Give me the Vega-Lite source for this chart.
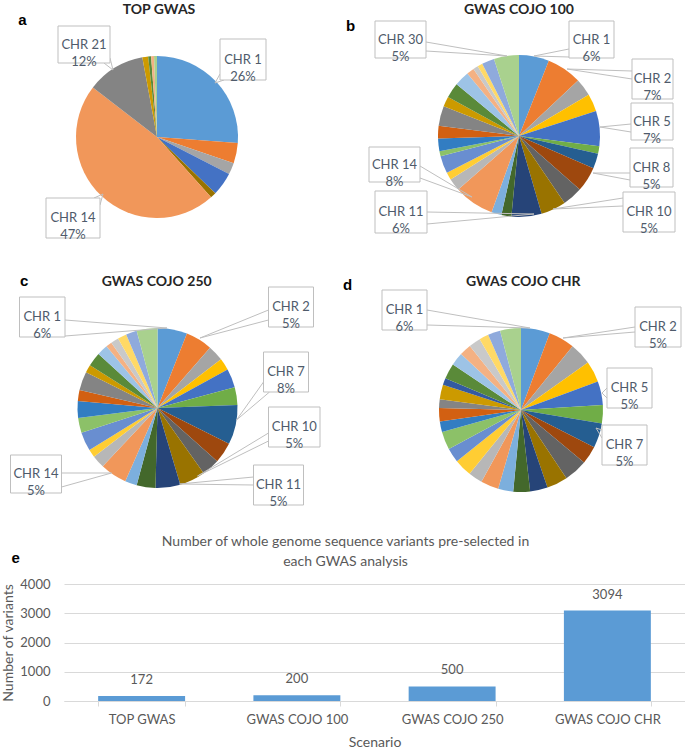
{
"$schema": "https://vega.github.io/schema/vega-lite/v6.json",
"padding": 0,
"spacing": 0,
"background": "white",
"config": {"view": {"stroke": null}, "concat": {"spacing": 0}},
"datasets": {
"pies": [
{"p":"a","chr":1,"n":45},{"p":"a","chr":2,"n":7},{"p":"a","chr":3,"n":4},{"p":"a","chr":5,"n":8},{"p":"a","chr":10,"n":2},{"p":"a","chr":14,"n":81},{"p":"a","chr":21,"n":20},{"p":"a","chr":22,"n":2},{"p":"a","chr":24,"n":1},{"p":"a","chr":26,"n":1},{"p":"a","chr":30,"n":1},
{"p":"b","chr":1,"n":12},{"p":"b","chr":2,"n":14},{"p":"b","chr":3,"n":7},{"p":"b","chr":4,"n":7},{"p":"b","chr":5,"n":14},{"p":"b","chr":6,"n":3},{"p":"b","chr":7,"n":6},{"p":"b","chr":8,"n":10},{"p":"b","chr":9,"n":8},{"p":"b","chr":10,"n":10},{"p":"b","chr":11,"n":12},{"p":"b","chr":12,"n":4},{"p":"b","chr":13,"n":4},{"p":"b","chr":14,"n":16},{"p":"b","chr":15,"n":5},{"p":"b","chr":16,"n":3},{"p":"b","chr":17,"n":7},{"p":"b","chr":18,"n":2},{"p":"b","chr":19,"n":5},{"p":"b","chr":20,"n":5},{"p":"b","chr":21,"n":8},{"p":"b","chr":22,"n":4},{"p":"b","chr":24,"n":6},{"p":"b","chr":25,"n":6},{"p":"b","chr":26,"n":3},{"p":"b","chr":27,"n":2},{"p":"b","chr":28,"n":2},{"p":"b","chr":29,"n":5},{"p":"b","chr":30,"n":10},
{"p":"c","chr":1,"n":30},{"p":"c","chr":2,"n":27},{"p":"c","chr":3,"n":16},{"p":"c","chr":4,"n":12},{"p":"c","chr":5,"n":19},{"p":"c","chr":6,"n":18},{"p":"c","chr":7,"n":40},{"p":"c","chr":8,"n":21},{"p":"c","chr":9,"n":18},{"p":"c","chr":10,"n":26},{"p":"c","chr":11,"n":25},{"p":"c","chr":12,"n":19},{"p":"c","chr":13,"n":12},{"p":"c","chr":14,"n":27},{"p":"c","chr":15,"n":13},{"p":"c","chr":16,"n":8},{"p":"c","chr":17,"n":19},{"p":"c","chr":18,"n":15},{"p":"c","chr":19,"n":17},{"p":"c","chr":20,"n":11},{"p":"c","chr":21,"n":19},{"p":"c","chr":22,"n":8},{"p":"c","chr":24,"n":14},{"p":"c","chr":25,"n":11},{"p":"c","chr":26,"n":6},{"p":"c","chr":27,"n":8},{"p":"c","chr":28,"n":9},{"p":"c","chr":29,"n":11},{"p":"c","chr":30,"n":21},
{"p":"d","chr":1,"n":176},{"p":"d","chr":2,"n":159},{"p":"d","chr":3,"n":135},{"p":"d","chr":4,"n":128},{"p":"d","chr":5,"n":146},{"p":"d","chr":6,"n":111},{"p":"d","chr":7,"n":150},{"p":"d","chr":8,"n":110},{"p":"d","chr":9,"n":143},{"p":"d","chr":10,"n":127},{"p":"d","chr":11,"n":107},{"p":"d","chr":12,"n":102},{"p":"d","chr":13,"n":92},{"p":"d","chr":14,"n":109},{"p":"d","chr":15,"n":86},{"p":"d","chr":16,"n":108},{"p":"d","chr":17,"n":88},{"p":"d","chr":18,"n":110},{"p":"d","chr":19,"n":64},{"p":"d","chr":20,"n":81},{"p":"d","chr":21,"n":54},{"p":"d","chr":22,"n":88},{"p":"d","chr":23,"n":42},{"p":"d","chr":24,"n":95},{"p":"d","chr":25,"n":79},{"p":"d","chr":26,"n":72},{"p":"d","chr":27,"n":72},{"p":"d","chr":28,"n":57},{"p":"d","chr":29,"n":76},{"p":"d","chr":30,"n":127}
],
"box": [
{"p":"a","x":63,"y":-98,"x2":109,"y2":-57},{"p":"a","x":-99,"y":-111,"x2":-47,"y2":-74},{"p":"a","x":-111,"y":61,"x2":-57,"y2":101},
{"p":"b","x":-144,"y":-115,"x2":-93,"y2":-78},{"p":"b","x":50,"y":-115,"x2":95,"y2":-78},{"p":"b","x":113,"y":-77,"x2":154,"y2":-37},{"p":"b","x":112,"y":-33,"x2":154,"y2":4},{"p":"b","x":111,"y":12,"x2":154,"y2":51},{"p":"b","x":104,"y":56,"x2":156,"y2":96},{"p":"b","x":-144,"y":55,"x2":-92,"y2":97},{"p":"b","x":-150,"y":11,"x2":-99,"y2":46},
{"p":"c","x":-138,"y":-111,"x2":-92.5,"y2":-71},{"p":"c","x":111,"y":-121,"x2":156,"y2":-81},{"p":"c","x":106,"y":-56,"x2":151,"y2":-16},{"p":"c","x":111,"y":-1,"x2":162.5,"y2":39},{"p":"c","x":96,"y":57,"x2":146,"y2":97},{"p":"c","x":-147,"y":47,"x2":-96,"y2":85},
{"p":"d","x":-139,"y":-120,"x2":-94,"y2":-80},{"p":"d","x":114,"y":-103,"x2":160,"y2":-63},{"p":"d","x":86,"y":-42,"x2":131,"y2":-2},{"p":"d","x":81,"y":15,"x2":126,"y2":55}
],
"lead": [
{"p":"a","x":63,"y":-63,"x2":58,"y2":-54},{"p":"a","x":67,"y":-57,"x2":58,"y2":-54},
{"p":"a","x":-53,"y":-74,"x2":-44,"y2":-67},{"p":"a","x":-47,"y":-79,"x2":-44,"y2":-67},
{"p":"a","x":-63,"y":61,"x2":-54,"y2":57},{"p":"a","x":-57,"y":68,"x2":-54,"y2":57},
{"p":"b","x":-93,"y":-94,"x2":-12,"y2":-80},{"p":"b","x":-93,"y":-85,"x2":-12,"y2":-80},
{"p":"b","x":50,"y":-87,"x2":15,"y2":-80},{"p":"b","x":50,"y":-79,"x2":15,"y2":-80},
{"p":"b","x":113,"y":-65,"x2":48,"y2":-67},{"p":"b","x":113,"y":-57,"x2":48,"y2":-67},
{"p":"b","x":112,"y":-12,"x2":81,"y2":-9},{"p":"b","x":112,"y":-4,"x2":81,"y2":-9},
{"p":"b","x":111,"y":37,"x2":74,"y2":37},{"p":"b","x":111,"y":44,"x2":74,"y2":37},
{"p":"b","x":104,"y":62,"x2":34,"y2":73},{"p":"b","x":104,"y":70,"x2":34,"y2":73},
{"p":"b","x":-92,"y":76,"x2":15,"y2":78},{"p":"b","x":-92,"y":88,"x2":15,"y2":78},
{"p":"b","x":-99,"y":30,"x2":-47,"y2":61},{"p":"b","x":-99,"y":42,"x2":-47,"y2":61},
{"p":"c","x":-92.5,"y":-88,"x2":9.5,"y2":-80},{"p":"c","x":-92.5,"y":-72,"x2":9.5,"y2":-80},
{"p":"c","x":111,"y":-98,"x2":42.5,"y2":-70},{"p":"c","x":111,"y":-88,"x2":42.5,"y2":-70},
{"p":"c","x":106,"y":-26,"x2":79,"y2":12},{"p":"c","x":112,"y":-16,"x2":79,"y2":12},
{"p":"c","x":111,"y":25,"x2":40,"y2":68},{"p":"c","x":111,"y":33,"x2":40,"y2":68},
{"p":"c","x":96,"y":69,"x2":22,"y2":76},{"p":"c","x":96,"y":77,"x2":22,"y2":76},
{"p":"c","x":-96,"y":65,"x2":-46,"y2":65},{"p":"c","x":-96,"y":79,"x2":-46,"y2":65},
{"p":"d","x":-94,"y":-100,"x2":9,"y2":-82},{"p":"d","x":-94,"y":-85,"x2":9,"y2":-82},
{"p":"d","x":114,"y":-83,"x2":42,"y2":-72},{"p":"d","x":114,"y":-78,"x2":42,"y2":-72},
{"p":"d","x":86,"y":-22,"x2":81,"y2":-17},{"p":"d","x":86,"y":-12,"x2":81,"y2":-17},
{"p":"d","x":81,"y":20,"x2":75,"y2":18},{"p":"d","x":81,"y":28,"x2":75,"y2":18}
],
"txt": [
{"p":"a","r":"label","x":86,"y":-77.5,"t":"CHR 1\n26%"},{"p":"a","r":"label","x":-73,"y":-92.5,"t":"CHR 21\n12%"},{"p":"a","r":"label","x":-84,"y":81,"t":"CHR 14\n47%"},
{"p":"a","r":"title","x":2,"y":-123,"t":"TOP GWAS"},{"p":"a","r":"letter","x":-134.5,"y":-112,"t":"a"},
{"p":"b","r":"label","x":-118.5,"y":-96.5,"t":"CHR 30\n5%"},{"p":"b","r":"label","x":72.5,"y":-96.5,"t":"CHR 1\n6%"},{"p":"b","r":"label","x":133.5,"y":-57,"t":"CHR 2\n7%"},{"p":"b","r":"label","x":133,"y":-14.5,"t":"CHR 5\n7%"},{"p":"b","r":"label","x":132.5,"y":31.5,"t":"CHR 8\n5%"},{"p":"b","r":"label","x":130,"y":76,"t":"CHR 10\n5%"},{"p":"b","r":"label","x":-118,"y":76,"t":"CHR 11\n6%"},{"p":"b","r":"label","x":-124.5,"y":28.5,"t":"CHR 14\n8%"},
{"p":"b","r":"title","x":0,"y":-122,"t":"GWAS COJO 100"},{"p":"b","r":"letter","x":-168.5,"y":-105.5,"t":"b"},
{"p":"c","r":"label","x":-115.3,"y":-91,"t":"CHR 1\n6%"},{"p":"c","r":"label","x":133.5,"y":-101,"t":"CHR 2\n5%"},{"p":"c","r":"label","x":128.5,"y":-36,"t":"CHR 7\n8%"},{"p":"c","r":"label","x":136.8,"y":19,"t":"CHR 10\n5%"},{"p":"c","r":"label","x":121,"y":77,"t":"CHR 11\n5%"},{"p":"c","r":"label","x":-121.5,"y":66,"t":"CHR 14\n5%"},
{"p":"c","r":"title","x":-0.8,"y":-122.5,"t":"GWAS COJO 250"},{"p":"c","r":"letter","x":-133.3,"y":-122,"t":"c"},
{"p":"d","r":"label","x":-116.5,"y":-100,"t":"CHR 1\n6%"},{"p":"d","r":"label","x":137,"y":-83,"t":"CHR 2\n5%"},{"p":"d","r":"label","x":108.5,"y":-22,"t":"CHR 5\n5%"},{"p":"d","r":"label","x":103.5,"y":35,"t":"CHR 7\n5%"},
{"p":"d","r":"title","x":2.3,"y":-124.5,"t":"GWAS COJO CHR"},{"p":"d","r":"letter","x":-173.5,"y":-120,"t":"d"}
],
"bars": [
{"s":"TOP GWAS","n":172},{"s":"GWAS COJO 100","n":200},{"s":"GWAS COJO 250","n":500},{"s":"GWAS COJO CHR","n":3094}
],
"panelLetter": [
{"s":"TOP GWAS","n":4880,"t":"e"}
]
},
"vconcat": [
{"spacing": 103, "bounds": "flush", "hconcat": [
{"width": 186, "height": 274,
 "layer": [
  {"data":{"name":"pies"},"transform":[{"filter":"datum.p=='a'"}],"mark":{"type":"arc","radius":81},
   "encoding":{"theta":{"field":"n","type":"quantitative","stack":true},"order":{"field":"chr","type":"quantitative"},
    "color":{"field":"chr","type":"nominal","legend":null,"scale":{"domain":[1,2,3,4,5,6,7,8,9,10,11,12,13,14,15,16,17,18,19,20,21,22,23,24,25,26,27,28,29,30],"range":["#5B9BD5","#ED7D31","#A5A5A5","#FFC000","#4472C4","#70AD47","#255E91","#9E480E","#636363","#997300","#264478","#43682B","#7CAFDD","#F1975A","#B7B7B7","#FFCD33","#698ED0","#8CC168","#327DC2","#D26012","#848484","#CC9A00","#335AA1","#5A8A39","#9DC3E6","#F4B183","#C9C9C9","#FFD966","#8FAADC","#A9D18E"]}}}},
  {"data":{"name":"lead"},"transform":[{"filter":"datum.p=='a'"}],"mark":{"type":"rule","color":"#BFBFBF","strokeWidth":1},
   "encoding":{"x":{"field":"x","type":"quantitative","scale":{"domain":[-93,93],"nice":false,"zero":false},"axis":null},"y":{"field":"y","type":"quantitative","scale":{"domain":[-137,137],"nice":false,"zero":false,"reverse":true},"axis":null},"x2":{"field":"x2"},"y2":{"field":"y2"}}},
  {"data":{"name":"box"},"transform":[{"filter":"datum.p=='a'"}],"mark":{"type":"rect","fill":"white","stroke":"#BFBFBF","strokeWidth":1},
   "encoding":{"x":{"field":"x","type":"quantitative","scale":{"domain":[-93,93],"nice":false,"zero":false},"axis":null},"y":{"field":"y","type":"quantitative","scale":{"domain":[-137,137],"nice":false,"zero":false,"reverse":true},"axis":null},"x2":{"field":"x2"},"y2":{"field":"y2"}}},
  {"data":{"name":"txt"},"transform":[{"filter":"datum.p=='a' && datum.r=='label'"}],"mark":{"type":"text","font":"Lato","fontSize":13,"color":"#4F5B6B","lineBreak":"\n","lineHeight":17,"baseline":"middle","align":"center"},
   "encoding":{"x":{"field":"x","type":"quantitative","scale":{"domain":[-93,93],"nice":false,"zero":false},"axis":null},"y":{"field":"y","type":"quantitative","scale":{"domain":[-137,137],"nice":false,"zero":false,"reverse":true},"axis":null},"text":{"field":"t"}}},
  {"data":{"name":"txt"},"transform":[{"filter":"datum.p=='a' && datum.r=='title'"}],"mark":{"type":"text","font":"Lato","fontSize":14,"fontWeight":"bold","color":"#262626","baseline":"alphabetic","align":"center"},
   "encoding":{"x":{"field":"x","type":"quantitative","scale":{"domain":[-93,93],"nice":false,"zero":false},"axis":null},"y":{"field":"y","type":"quantitative","scale":{"domain":[-137,137],"nice":false,"zero":false,"reverse":true},"axis":null},"text":{"field":"t"}}},
  {"data":{"name":"txt"},"transform":[{"filter":"datum.p=='a' && datum.r=='letter'"}],"mark":{"type":"text","font":"Liberation Sans","fontSize":15,"fontWeight":"bold","color":"#000000","baseline":"alphabetic","align":"center"},
   "encoding":{"x":{"field":"x","type":"quantitative","scale":{"domain":[-93,93],"nice":false,"zero":false},"axis":null},"y":{"field":"y","type":"quantitative","scale":{"domain":[-137,137],"nice":false,"zero":false,"reverse":true},"axis":null},"text":{"field":"t"}}}
 ]},
{"width": 332, "height": 272,
 "layer": [
  {"data":{"name":"pies"},"transform":[{"filter":"datum.p=='b'"}],"mark":{"type":"arc","radius":81},
   "encoding":{"theta":{"field":"n","type":"quantitative","stack":true},"order":{"field":"chr","type":"quantitative"},
    "color":{"field":"chr","type":"nominal","legend":null,"scale":{"domain":[1,2,3,4,5,6,7,8,9,10,11,12,13,14,15,16,17,18,19,20,21,22,23,24,25,26,27,28,29,30],"range":["#5B9BD5","#ED7D31","#A5A5A5","#FFC000","#4472C4","#70AD47","#255E91","#9E480E","#636363","#997300","#264478","#43682B","#7CAFDD","#F1975A","#B7B7B7","#FFCD33","#698ED0","#8CC168","#327DC2","#D26012","#848484","#CC9A00","#335AA1","#5A8A39","#9DC3E6","#F4B183","#C9C9C9","#FFD966","#8FAADC","#A9D18E"]}}}},
  {"data":{"name":"lead"},"transform":[{"filter":"datum.p=='b'"}],"mark":{"type":"rule","color":"#BFBFBF","strokeWidth":1},
   "encoding":{"x":{"field":"x","type":"quantitative","scale":{"domain":[-166,166],"nice":false,"zero":false},"axis":null},"y":{"field":"y","type":"quantitative","scale":{"domain":[-136,136],"nice":false,"zero":false,"reverse":true},"axis":null},"x2":{"field":"x2"},"y2":{"field":"y2"}}},
  {"data":{"name":"box"},"transform":[{"filter":"datum.p=='b'"}],"mark":{"type":"rect","fill":"white","stroke":"#BFBFBF","strokeWidth":1},
   "encoding":{"x":{"field":"x","type":"quantitative","scale":{"domain":[-166,166],"nice":false,"zero":false},"axis":null},"y":{"field":"y","type":"quantitative","scale":{"domain":[-136,136],"nice":false,"zero":false,"reverse":true},"axis":null},"x2":{"field":"x2"},"y2":{"field":"y2"}}},
  {"data":{"name":"txt"},"transform":[{"filter":"datum.p=='b' && datum.r=='label'"}],"mark":{"type":"text","font":"Lato","fontSize":13,"color":"#4F5B6B","lineBreak":"\n","lineHeight":17,"baseline":"middle","align":"center"},
   "encoding":{"x":{"field":"x","type":"quantitative","scale":{"domain":[-166,166],"nice":false,"zero":false},"axis":null},"y":{"field":"y","type":"quantitative","scale":{"domain":[-136,136],"nice":false,"zero":false,"reverse":true},"axis":null},"text":{"field":"t"}}},
  {"data":{"name":"txt"},"transform":[{"filter":"datum.p=='b' && datum.r=='title'"}],"mark":{"type":"text","font":"Lato","fontSize":14,"fontWeight":"bold","color":"#262626","baseline":"alphabetic","align":"center"},
   "encoding":{"x":{"field":"x","type":"quantitative","scale":{"domain":[-166,166],"nice":false,"zero":false},"axis":null},"y":{"field":"y","type":"quantitative","scale":{"domain":[-136,136],"nice":false,"zero":false,"reverse":true},"axis":null},"text":{"field":"t"}}},
  {"data":{"name":"txt"},"transform":[{"filter":"datum.p=='b' && datum.r=='letter'"}],"mark":{"type":"text","font":"Liberation Sans","fontSize":15,"fontWeight":"bold","color":"#000000","baseline":"alphabetic","align":"center"},
   "encoding":{"x":{"field":"x","type":"quantitative","scale":{"domain":[-166,166],"nice":false,"zero":false},"axis":null},"y":{"field":"y","type":"quantitative","scale":{"domain":[-136,136],"nice":false,"zero":false,"reverse":true},"axis":null},"text":{"field":"t"}}}
 ]}
]},
{"spacing": 106, "bounds": "flush", "hconcat": [
{"width": 187, "height": 246,
 "layer": [
  {"data":{"name":"pies"},"transform":[{"filter":"datum.p=='c'"}],"mark":{"type":"arc","radius":80},
   "encoding":{"theta":{"field":"n","type":"quantitative","stack":true},"order":{"field":"chr","type":"quantitative"},
    "color":{"field":"chr","type":"nominal","legend":null,"scale":{"domain":[1,2,3,4,5,6,7,8,9,10,11,12,13,14,15,16,17,18,19,20,21,22,23,24,25,26,27,28,29,30],"range":["#5B9BD5","#ED7D31","#A5A5A5","#FFC000","#4472C4","#70AD47","#255E91","#9E480E","#636363","#997300","#264478","#43682B","#7CAFDD","#F1975A","#B7B7B7","#FFCD33","#698ED0","#8CC168","#327DC2","#D26012","#848484","#CC9A00","#335AA1","#5A8A39","#9DC3E6","#F4B183","#C9C9C9","#FFD966","#8FAADC","#A9D18E"]}}}},
  {"data":{"name":"lead"},"transform":[{"filter":"datum.p=='c'"}],"mark":{"type":"rule","color":"#BFBFBF","strokeWidth":1},
   "encoding":{"x":{"field":"x","type":"quantitative","scale":{"domain":[-93.5,93.5],"nice":false,"zero":false},"axis":null},"y":{"field":"y","type":"quantitative","scale":{"domain":[-123,123],"nice":false,"zero":false,"reverse":true},"axis":null},"x2":{"field":"x2"},"y2":{"field":"y2"}}},
  {"data":{"name":"box"},"transform":[{"filter":"datum.p=='c'"}],"mark":{"type":"rect","fill":"white","stroke":"#BFBFBF","strokeWidth":1},
   "encoding":{"x":{"field":"x","type":"quantitative","scale":{"domain":[-93.5,93.5],"nice":false,"zero":false},"axis":null},"y":{"field":"y","type":"quantitative","scale":{"domain":[-123,123],"nice":false,"zero":false,"reverse":true},"axis":null},"x2":{"field":"x2"},"y2":{"field":"y2"}}},
  {"data":{"name":"txt"},"transform":[{"filter":"datum.p=='c' && datum.r=='label'"}],"mark":{"type":"text","font":"Lato","fontSize":13,"color":"#4F5B6B","lineBreak":"\n","lineHeight":17,"baseline":"middle","align":"center"},
   "encoding":{"x":{"field":"x","type":"quantitative","scale":{"domain":[-93.5,93.5],"nice":false,"zero":false},"axis":null},"y":{"field":"y","type":"quantitative","scale":{"domain":[-123,123],"nice":false,"zero":false,"reverse":true},"axis":null},"text":{"field":"t"}}},
  {"data":{"name":"txt"},"transform":[{"filter":"datum.p=='c' && datum.r=='title'"}],"mark":{"type":"text","font":"Lato","fontSize":14,"fontWeight":"bold","color":"#262626","baseline":"alphabetic","align":"center"},
   "encoding":{"x":{"field":"x","type":"quantitative","scale":{"domain":[-93.5,93.5],"nice":false,"zero":false},"axis":null},"y":{"field":"y","type":"quantitative","scale":{"domain":[-123,123],"nice":false,"zero":false,"reverse":true},"axis":null},"text":{"field":"t"}}},
  {"data":{"name":"txt"},"transform":[{"filter":"datum.p=='c' && datum.r=='letter'"}],"mark":{"type":"text","font":"Liberation Sans","fontSize":15,"fontWeight":"bold","color":"#000000","baseline":"alphabetic","align":"center"},
   "encoding":{"x":{"field":"x","type":"quantitative","scale":{"domain":[-93.5,93.5],"nice":false,"zero":false},"axis":null},"y":{"field":"y","type":"quantitative","scale":{"domain":[-123,123],"nice":false,"zero":false,"reverse":true},"axis":null},"text":{"field":"t"}}}
 ]},
{"width": 328, "height": 250,
 "layer": [
  {"data":{"name":"pies"},"transform":[{"filter":"datum.p=='d'"}],"mark":{"type":"arc","radius":82},
   "encoding":{"theta":{"field":"n","type":"quantitative","stack":true},"order":{"field":"chr","type":"quantitative"},
    "color":{"field":"chr","type":"nominal","legend":null,"scale":{"domain":[1,2,3,4,5,6,7,8,9,10,11,12,13,14,15,16,17,18,19,20,21,22,23,24,25,26,27,28,29,30],"range":["#5B9BD5","#ED7D31","#A5A5A5","#FFC000","#4472C4","#70AD47","#255E91","#9E480E","#636363","#997300","#264478","#43682B","#7CAFDD","#F1975A","#B7B7B7","#FFCD33","#698ED0","#8CC168","#327DC2","#D26012","#848484","#CC9A00","#335AA1","#5A8A39","#9DC3E6","#F4B183","#C9C9C9","#FFD966","#8FAADC","#A9D18E"]}}}},
  {"data":{"name":"lead"},"transform":[{"filter":"datum.p=='d'"}],"mark":{"type":"rule","color":"#BFBFBF","strokeWidth":1},
   "encoding":{"x":{"field":"x","type":"quantitative","scale":{"domain":[-164,164],"nice":false,"zero":false},"axis":null},"y":{"field":"y","type":"quantitative","scale":{"domain":[-125,125],"nice":false,"zero":false,"reverse":true},"axis":null},"x2":{"field":"x2"},"y2":{"field":"y2"}}},
  {"data":{"name":"box"},"transform":[{"filter":"datum.p=='d'"}],"mark":{"type":"rect","fill":"white","stroke":"#BFBFBF","strokeWidth":1},
   "encoding":{"x":{"field":"x","type":"quantitative","scale":{"domain":[-164,164],"nice":false,"zero":false},"axis":null},"y":{"field":"y","type":"quantitative","scale":{"domain":[-125,125],"nice":false,"zero":false,"reverse":true},"axis":null},"x2":{"field":"x2"},"y2":{"field":"y2"}}},
  {"data":{"name":"txt"},"transform":[{"filter":"datum.p=='d' && datum.r=='label'"}],"mark":{"type":"text","font":"Lato","fontSize":13,"color":"#4F5B6B","lineBreak":"\n","lineHeight":17,"baseline":"middle","align":"center"},
   "encoding":{"x":{"field":"x","type":"quantitative","scale":{"domain":[-164,164],"nice":false,"zero":false},"axis":null},"y":{"field":"y","type":"quantitative","scale":{"domain":[-125,125],"nice":false,"zero":false,"reverse":true},"axis":null},"text":{"field":"t"}}},
  {"data":{"name":"txt"},"transform":[{"filter":"datum.p=='d' && datum.r=='title'"}],"mark":{"type":"text","font":"Lato","fontSize":14,"fontWeight":"bold","color":"#262626","baseline":"alphabetic","align":"center"},
   "encoding":{"x":{"field":"x","type":"quantitative","scale":{"domain":[-164,164],"nice":false,"zero":false},"axis":null},"y":{"field":"y","type":"quantitative","scale":{"domain":[-125,125],"nice":false,"zero":false,"reverse":true},"axis":null},"text":{"field":"t"}}},
  {"data":{"name":"txt"},"transform":[{"filter":"datum.p=='d' && datum.r=='letter'"}],"mark":{"type":"text","font":"Liberation Sans","fontSize":15,"fontWeight":"bold","color":"#000000","baseline":"alphabetic","align":"center"},
   "encoding":{"x":{"field":"x","type":"quantitative","scale":{"domain":[-164,164],"nice":false,"zero":false},"axis":null},"y":{"field":"y","type":"quantitative","scale":{"domain":[-125,125],"nice":false,"zero":false,"reverse":true},"axis":null},"text":{"field":"t"}}}
 ]}
]},
{"width": 621, "height": 117,
 "title": {"text": ["Number of whole genome sequence variants pre-selected in", "each GWAS analysis"], "font": "Lato", "fontSize": 14, "fontWeight": "normal", "color": "#595959", "lineHeight": 20, "anchor": "middle", "frame": "group", "offset": -18, "dx": -29},
 "encoding": {
  "x": {"field": "s", "type": "nominal", "sort": null, "scale": {"paddingInner": 0.44, "paddingOuter": 0.22},
        "axis": {"title": "Scenario", "titleFont": "Lato", "titleFontSize": 14, "titleFontWeight": "normal", "titleColor": "#595959", "titlePadding": 9,
                 "labelFont": "Lato", "labelFontSize": 13, "labelColor": "#595959", "labelAngle": 0, "labelPadding": 7,
                 "domainColor": "#D9D9D9", "tickColor": "#D9D9D9", "tickSize": 5, "tickBand": "extent", "grid": false}},
  "y": {"field": "n", "type": "quantitative", "scale": {"domain": [0, 4000], "nice": false},
        "axis": {"title": "Number of variants", "titleFont": "Lato", "titleFontSize": 14, "titleFontWeight": "normal", "titleColor": "#595959", "titlePadding": 1,
                 "values": [0, 1000, 2000, 3000, 4000], "format": "d", "labelOverlap": false, "grid": true, "gridColor": "#D9D9D9", "domain": false, "ticks": false, "tickSize": 0,
                 "labelFont": "Lato", "labelFontSize": 13, "labelColor": "#595959", "labelPadding": 14, "minExtent": 48, "maxExtent": 48}}
 },
 "layer": [
  {"data": {"name": "bars"}, "mark": {"type": "bar", "color": "#5B9BD5"}},
  {"data": {"name": "bars"}, "mark": {"type": "text", "font": "Lato", "fontSize": 13, "color": "#595959", "baseline": "bottom", "dy": -9},
   "encoding": {"text": {"field": "n", "type": "quantitative"}}},
  {"data": {"name": "panelLetter"},
   "mark": {"type": "text", "font": "Liberation Sans", "fontSize": 15, "fontWeight": "bold", "color": "#000000", "baseline": "middle", "dx": -126},
   "encoding": {"text": {"field": "t"}}}
 ]}
]
}
